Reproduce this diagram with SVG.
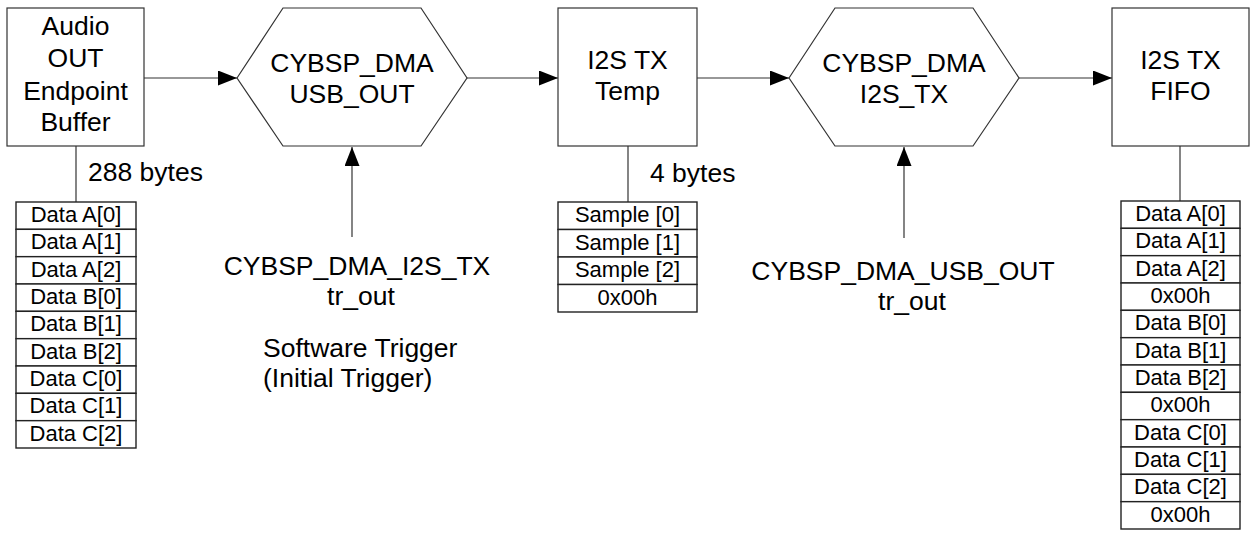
<svg xmlns="http://www.w3.org/2000/svg" width="1258" height="540" viewBox="0 0 1258 540">
<defs>
<marker id="ah" markerUnits="userSpaceOnUse" markerWidth="20" markerHeight="16" refX="19" refY="7.5" orient="auto">
<path d="M0,0 L19,7.5 L0,15 Z" fill="#000"/>
</marker>
</defs>
<style>
.n{fill:#fff;stroke:#333;stroke-width:1.2}
.t{fill:#fff;stroke:#222;stroke-width:1.4}
.c{stroke:#333;stroke-width:1.2;fill:none}
.a{stroke:#333;stroke-width:1.2;fill:none;marker-end:url(#ah)}
text{font-family:"Liberation Sans",Arial,sans-serif;fill:#000}
.L{font-size:26.5px;text-anchor:middle}
.S{font-size:22px;text-anchor:middle}
</style>
<rect width="1258" height="540" fill="#fff"/>
<g id="connectors">
<line class="a" x1="144" y1="78" x2="237" y2="78"/>
<line class="a" x1="467" y1="78" x2="558" y2="78"/>
<line class="a" x1="697" y1="78" x2="789" y2="78"/>
<line class="a" x1="1019" y1="78" x2="1112" y2="78"/>
<line class="a" x1="352" y1="237" x2="352" y2="147"/>
<line class="a" x1="904" y1="238" x2="904" y2="147"/>
<line class="c" x1="76" y1="146" x2="76" y2="202"/>
<line class="c" x1="628" y1="146" x2="628" y2="202"/>
<line class="c" x1="1180" y1="146" x2="1180" y2="201"/>
<text x="88" y="181" style="font-size:26.5px">288 bytes</text>
<text x="650" y="182" style="font-size:26.5px">4 bytes</text>
</g>
<g id="audio-out-buffer">
<rect class="n" x="7" y="8" width="137" height="138"/>
<text class="L" x="75.5" y="35">Audio</text>
<text class="L" x="75.5" y="67">OUT</text>
<text class="L" x="75.5" y="100">Endpoint</text>
<text class="L" x="75.5" y="131">Buffer</text>
</g>
<g id="dma-usb-out">
<polygon class="n" points="237,78 283,8 421,8 467,78 421,146 283,146"/>
<text class="L" x="352" y="72">CYBSP_DMA</text>
<text class="L" x="352" y="103">USB_OUT</text>
</g>
<g id="i2s-tx-temp">
<rect class="n" x="558" y="8" width="139" height="138"/>
<text class="L" x="627.5" y="69">I2S TX</text>
<text class="L" x="627.5" y="100">Temp</text>
</g>
<g id="dma-i2s-tx">
<polygon class="n" points="789,78 835,8 973,8 1019,78 973,146 835,146"/>
<text class="L" x="904" y="72">CYBSP_DMA</text>
<text class="L" x="904" y="103">I2S_TX</text>
</g>
<g id="i2s-tx-fifo">
<rect class="n" x="1112" y="8" width="137" height="138"/>
<text class="L" x="1180.5" y="69">I2S TX</text>
<text class="L" x="1180.5" y="100">FIFO</text>
</g>
<g id="trigger-usb-dma">
<text class="L" x="357" y="275">CYBSP_DMA_I2S_TX</text>
<text class="L" x="361" y="305">tr_out</text>
<text x="263" y="357" style="font-size:26.5px">Software Trigger</text>
<text x="263" y="387" style="font-size:26.5px">(Initial Trigger)</text>
</g>
<g id="trigger-i2s-dma">
<text class="L" x="903" y="280">CYBSP_DMA_USB_OUT</text>
<text class="L" x="912" y="310">tr_out</text>
</g>
<g id="table-buffer">
<rect class="t" x="16" y="202" width="120" height="27.33"/>
<rect class="t" x="16" y="229.33" width="120" height="27.33"/>
<rect class="t" x="16" y="256.67" width="120" height="27.33"/>
<rect class="t" x="16" y="284" width="120" height="27.33"/>
<rect class="t" x="16" y="311.33" width="120" height="27.33"/>
<rect class="t" x="16" y="338.67" width="120" height="27.33"/>
<rect class="t" x="16" y="366" width="120" height="27.33"/>
<rect class="t" x="16" y="393.33" width="120" height="27.33"/>
<rect class="t" x="16" y="420.67" width="120" height="27.33"/>
<text class="S" x="76" y="222">Data A[0]</text>
<text class="S" x="76" y="249.3">Data A[1]</text>
<text class="S" x="76" y="276.7">Data A[2]</text>
<text class="S" x="76" y="304">Data B[0]</text>
<text class="S" x="76" y="331.3">Data B[1]</text>
<text class="S" x="76" y="358.7">Data B[2]</text>
<text class="S" x="76" y="386">Data C[0]</text>
<text class="S" x="76" y="413.3">Data C[1]</text>
<text class="S" x="76" y="440.7">Data C[2]</text>
</g>
<g id="table-temp">
<rect class="t" x="558" y="202" width="139" height="27.5"/>
<rect class="t" x="558" y="229.5" width="139" height="27.5"/>
<rect class="t" x="558" y="257" width="139" height="27.5"/>
<rect class="t" x="558" y="284.5" width="139" height="27.5"/>
<text class="S" x="627.5" y="222">Sample [0]</text>
<text class="S" x="627.5" y="249.5">Sample [1]</text>
<text class="S" x="627.5" y="277">Sample [2]</text>
<text class="S" x="627.5" y="304.5">0x00h</text>
</g>
<g id="table-fifo">
<rect class="t" x="1121" y="201" width="119" height="27.33"/>
<rect class="t" x="1121" y="228.33" width="119" height="27.33"/>
<rect class="t" x="1121" y="255.67" width="119" height="27.33"/>
<rect class="t" x="1121" y="283" width="119" height="27.33"/>
<rect class="t" x="1121" y="310.33" width="119" height="27.33"/>
<rect class="t" x="1121" y="337.67" width="119" height="27.33"/>
<rect class="t" x="1121" y="365" width="119" height="27.33"/>
<rect class="t" x="1121" y="392.33" width="119" height="27.33"/>
<rect class="t" x="1121" y="419.67" width="119" height="27.33"/>
<rect class="t" x="1121" y="447" width="119" height="27.33"/>
<rect class="t" x="1121" y="474.33" width="119" height="27.33"/>
<rect class="t" x="1121" y="501.67" width="119" height="27.33"/>
<text class="S" x="1180.5" y="221">Data A[0]</text>
<text class="S" x="1180.5" y="248.3">Data A[1]</text>
<text class="S" x="1180.5" y="275.7">Data A[2]</text>
<text class="S" x="1180.5" y="303">0x00h</text>
<text class="S" x="1180.5" y="330.3">Data B[0]</text>
<text class="S" x="1180.5" y="357.7">Data B[1]</text>
<text class="S" x="1180.5" y="385">Data B[2]</text>
<text class="S" x="1180.5" y="412.3">0x00h</text>
<text class="S" x="1180.5" y="439.7">Data C[0]</text>
<text class="S" x="1180.5" y="467">Data C[1]</text>
<text class="S" x="1180.5" y="494.3">Data C[2]</text>
<text class="S" x="1180.5" y="521.7">0x00h</text>
</g>
</svg>
